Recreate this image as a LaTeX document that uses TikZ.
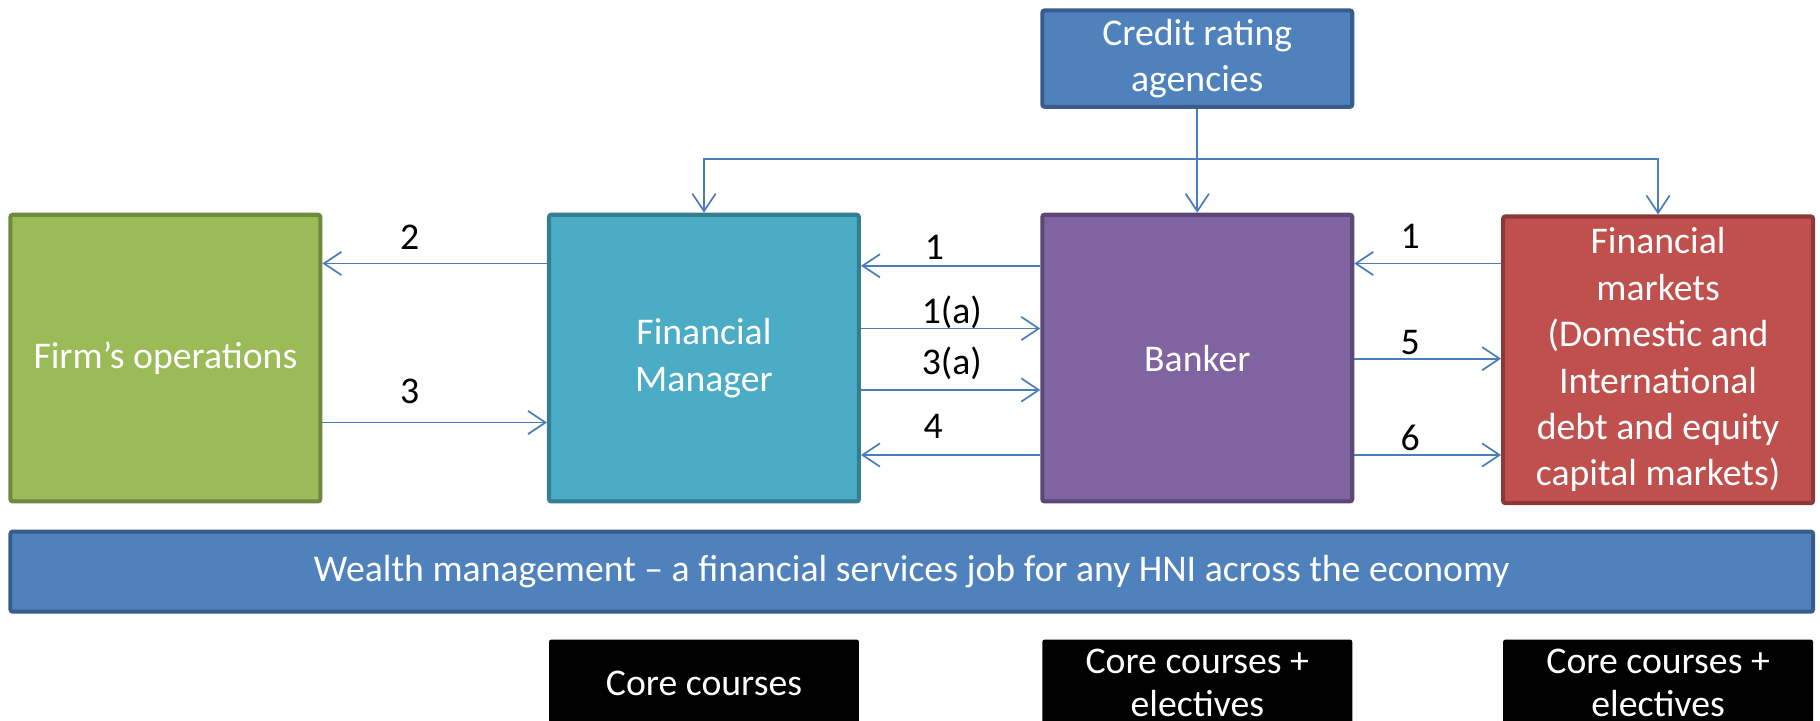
\documentclass[tikz,border=0pt]{standalone}
\usepackage{fontspec}
\setmainfont{Carlito}
\usetikzlibrary{arrows.meta}
\definecolor{cgreen}{HTML}{9BBB59}\definecolor{dgreen}{HTML}{71893F}
\definecolor{cteal}{HTML}{4BACC6}\definecolor{dteal}{HTML}{357D91}
\definecolor{cpurple}{HTML}{8064A2}\definecolor{dpurple}{HTML}{5C4776}
\definecolor{cred}{HTML}{C0504D}\definecolor{dred}{HTML}{8C3836}
\definecolor{cblue}{HTML}{4F81BD}\definecolor{dblue}{HTML}{385D8A}
\definecolor{carrow}{HTML}{4A7EBB}
\tikzset{
  box/.style={draw, line width=3.5pt, rounded corners=2pt, text=white, align=center,
    minimum width=267pt, minimum height=247pt, inner sep=2pt,
    font=\fontsize{32.5}{40}\selectfont},
  blackbox/.style={fill=black, draw=none, rounded corners=2pt, text=white, align=center,
    minimum width=270pt, minimum height=100pt, inner sep=0pt},
  btext/.style={text=white, align=center, font=\fontsize{32.5}{37}\selectfont, inner sep=0pt},
  arr/.style={draw=carrow, line width=1.5pt, -{Straight Barb[length=15pt,width=20pt,line width=1.5pt]}},
  lbl/.style={text=black, font=\fontsize{32.5}{38}\selectfont, inner sep=0pt}
}
\begin{document}
\begin{tikzpicture}[x=1pt,y=-1pt]
\useasboundingbox (0,0) rectangle (1568,621);
\clip (0,0) rectangle (1568,621);
% main boxes
\node[box, fill=cblue, draw=dblue, minimum height=83pt] (credit) at (1031.5,50.5) {Credit rating\\agencies};
\node[box, fill=cgreen, draw=dgreen] (firm) at (142.5,308.5) {Firm’s operations};
\node[box, fill=cteal, draw=dteal] (fm) at (606.5,308.5) {Financial\\Manager};
\node[box, fill=cpurple, draw=dpurple] (banker) at (1031.5,308.5) {Banker};
\node[box, fill=cred, draw=dred] (fin) at (1428.5,310) {Financial\\markets\\(Domestic and\\International\\debt and equity\\capital markets)};
\node[box, fill=cblue, draw=dblue, minimum width=1553pt, minimum height=69pt] (wealth) at (785.5,492.5) {Wealth management – a financial services job for any HNI across the economy};
% black boxes
\node[blackbox, minimum width=267pt] (core1) at (606.5,601) {};
\node[blackbox, minimum width=267pt] (core2) at (1031.5,601) {};
\node[blackbox, minimum width=267pt] (core3) at (1428.5,601) {};
\node[btext] (t1) at (606.5,589) {Core courses};
\node[btext] (t2) at (1031.5,588) {Core courses +\\electives};
\node[btext] (t3) at (1428.5,588) {Core courses +\\electives};
% credit connectors
\coordinate (j) at (1031.5,137);
\draw[arr] (credit.south) -- (banker.north);
\draw[arr] (j) -| (fm.north);
\draw[arr] (j) -| (fin.north);
% firm <-> FM
\draw[arr] (fm.west |- 0,227) -- (firm.east |- 0,227);
\draw[arr] (firm.east |- 0,364) -- (fm.west |- 0,364);
\node[lbl] (l2) at (353,204) {2};
\node[lbl] (l3) at (353,337) {3};
% FM <-> banker
\draw[arr] (banker.west |- 0,229) -- (fm.east |- 0,229);
\draw[arr] (fm.east |- 0,283) -- (banker.west |- 0,283);
\draw[arr] (fm.east |- 0,336) -- (banker.west |- 0,336);
\draw[arr] (banker.west |- 0,392) -- (fm.east |- 0,392);
\node[lbl] (l1) at (805,213) {1};
\node[lbl] (l1a) at (820,269) {1(a)};
\node[lbl] (l3a) at (820,313) {3(a)};
\node[lbl] (l4) at (804,367) {4};
% banker <-> fin
\draw[arr] (fin.west |- 0,227) -- (banker.east |- 0,227);
\draw[arr] (banker.east |- 0,309) -- (fin.west |- 0,309);
\draw[arr] (banker.east |- 0,392) -- (fin.west |- 0,392);
\node[lbl] (r1) at (1215,204) {1};
\node[lbl] (r5) at (1215,295) {5};
\node[lbl] (r6) at (1215,377) {6};
\end{tikzpicture}
\end{document}
